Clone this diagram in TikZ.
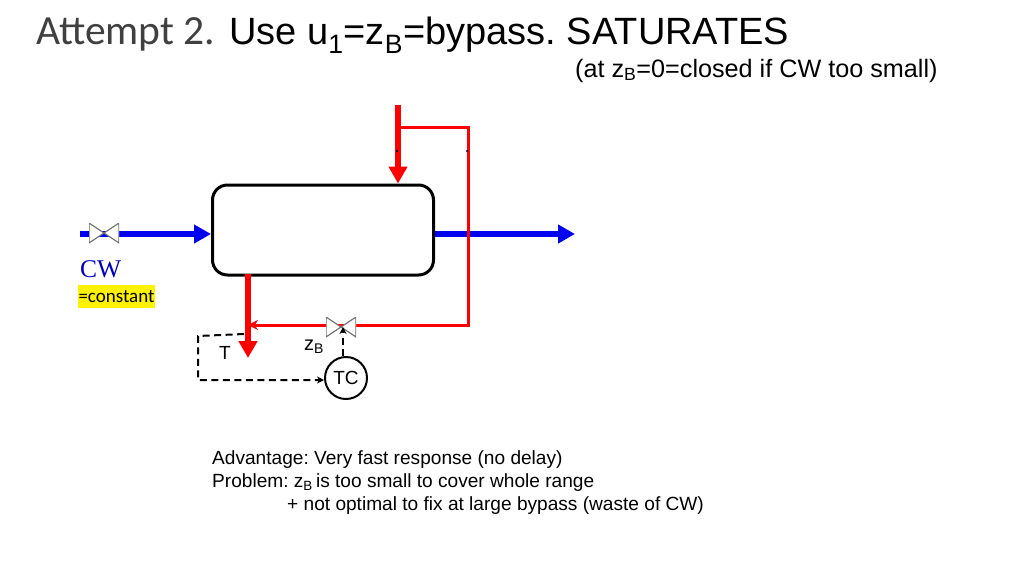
\documentclass[tikz,border=0pt]{standalone}
\usepackage{fontspec}
\setmainfont{Liberation Sans}
\newfontfamily\titlefont{Carlito}
\newfontfamily\cwfont{Liberation Serif}
\usetikzlibrary{arrows.meta}
\definecolor{cwblue}{RGB}{0,0,240}
\definecolor{hotred}{RGB}{255,0,0}
\frenchspacing
\tikzset{
	mainline/.style = {line width=5.6pt, -{Triangle[length=17pt,width=18pt]}},
	bypassline/.style = {line width=3pt, hotred},
	signal/.style = {line width=2pt, dash pattern=on 7pt off 4.5pt, -{Stealth[length=7pt,width=7pt]}},
	valve/.style = {minimum width=30pt, minimum height=20pt, inner sep=0pt,
		path picture={
			\draw[gray!90!black, line width=1.2pt, fill=white]
				(path picture bounding box.north west) -- (path picture bounding box.south west)
				-- (path picture bounding box.north east) -- (path picture bounding box.south east) -- cycle;
		}},
	label/.style = {inner sep=0pt, anchor=base west},
	speck/.style = {circle, fill=black!70!blue, inner sep=0pt, minimum size=2.5pt}
}
\begin{document}
\begin{tikzpicture}[x=1pt, y=-1pt]
	\useasboundingbox (0,0) rectangle (1024,576);

	% title
	\node[label, font=\titlefont\fontsize{41.5}{41.5}\selectfont, text=black!75] (attempt) at (36,44) {Attempt 2.};
	\node[label, font=\fontsize{38}{38}\selectfont] (title) at (229,44) {Use u\textsubscript{1}=z\textsubscript{B}=bypass. SATURATES};
	\node[label, font=\fontsize{25.2}{25.2}\selectfont] (subtitle) at (575,77) {(at z\textsubscript{B}=0=closed if CW too small)};

	% process
	\node[draw, line width=3pt, rounded corners=15pt, minimum width=221pt, minimum height=90pt, inner sep=0pt] (hex) at (323,230) {};
	\coordinate (cwin) at (80,234);
	\coordinate (cwout) at (575,234);
	\coordinate (hotin) at (398,105);
	\coordinate (hotsplit) at (398,127);
	\coordinate (bycorner1) at (468,127);
	\coordinate (bycorner2) at (468,325);
	\coordinate (hotout) at (248,358);
	\coordinate (hotmix) at (248,325);
	\coordinate (hexbottom) at (248,274);

	\draw[mainline, cwblue] (cwin) -- (hex.west |- cwin);
	\draw[mainline, cwblue] (hex.east |- cwout) -- (cwout);
	\node[valve] (cwvalve) at (104,233) {};

	\draw[mainline, hotred] (hotin) -- (hex.north -| hotin);
	\draw[mainline, hotred] (hexbottom) -- (hotout);
	\draw[bypassline, -{Stealth[length=10pt,width=10pt]}] (hotsplit) -- (bycorner1) -- (bycorner2) -- (hotmix);
	\node[valve] (byvalve) at (341,327) {};

	\node[speck] (speck1) at (397,151) {};
	\node[speck] (speck2) at (467,151) {};

	% control
	\node[draw, circle, line width=2pt, minimum size=42pt, inner sep=0pt, font=\fontsize{19}{19}\selectfont, fill=white] (tc) at (346,378) {TC};
	\coordinate (sensor) at (244,334);
	\coordinate (sigcorner1) at (198,336);
	\coordinate (sigcorner2) at (198,380);
	\draw[signal] (sensor) -- (sigcorner1) -- (sigcorner2) -- (tc.west |- sigcorner2);
	\draw[signal] (tc.north -| 343,0) -- (byvalve.center -| 343,0);

	% labels
	\node[label, font=\cwfont\fontsize{25.5}{25.5}\selectfont, text=cwblue!80!black] (cw) at (80,277) {CW};
	\node[fill=yellow, inner sep=0pt, minimum width=77pt, minimum height=23pt, font=\titlefont\fontsize{19}{19}\selectfont] (constant) at (116.5,296.5) {=constant};
	\node[label, font=\fontsize{19}{19}\selectfont] (tlabel) at (219,359) {T};
	\node[label, font=\fontsize{20}{20}\selectfont] (zlabel) at (304,350) {z\textsubscript{B}};

	% remarks
	\node[label, font=\fontsize{19.1}{19.1}\selectfont] (adv) at (212,464) {Advantage: Very fast response (no delay)};
	\node[label, font=\fontsize{19.1}{19.1}\selectfont] (prob) at (212,487) {Problem: z\textsubscript{B}\,is too small to cover whole range};
	\node[label, font=\fontsize{19.1}{19.1}\selectfont] (waste) at (287,510) {+ not optimal to fix at large bypass (waste of CW)};
\end{tikzpicture}
\end{document}
